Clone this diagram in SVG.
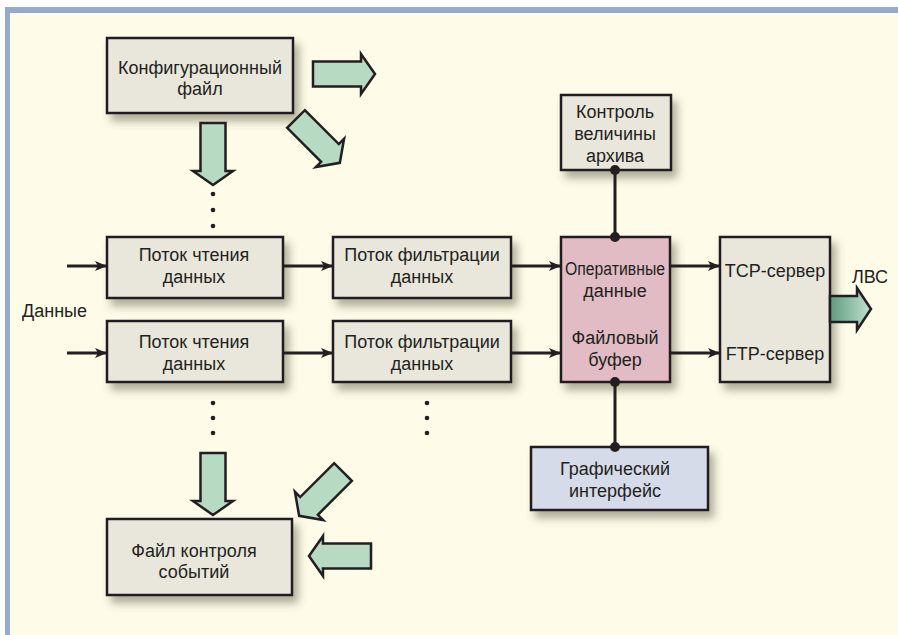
<svg xmlns="http://www.w3.org/2000/svg" width="898" height="635" viewBox="0 0 898 635">
<style>
  .box { stroke: #231f20; stroke-width: 2.5; filter: url(#sh); }
  .grey { fill: #e9e7dc; }
  .pink { fill: #e1bcc4; }
  .blue { fill: #d5dbe9; }
  text { font-family: "Liberation Sans Narrow", "Liberation Sans", Arial, sans-serif; font-size: 18px; fill: #231f20; text-anchor: middle; }
  .fat { fill: #b6dac2; stroke: #231f20; stroke-width: 2.5; stroke-linejoin: miter; }
  .ln { stroke: #231f20; stroke-width: 3; fill: none; }
  .dot { fill: #231f20; }
</style>
<defs>
  <filter id="sh" x="-20%" y="-20%" width="150%" height="160%">
    <feDropShadow dx="5" dy="7" stdDeviation="4" flood-color="#4d4d30" flood-opacity="0.45"/>
  </filter>
  <marker id="ah" viewBox="0 0 12 10" refX="11" refY="5" markerWidth="12" markerHeight="10" markerUnits="userSpaceOnUse" orient="auto">
    <path d="M0,0 L12,5 L0,10 L3,5 Z" fill="#231f20"/>
  </marker>
  <path id="fatArrow" d="M0,-12.5 H48 V-20 L62,0 L48,20 V12.5 H0 Z"/>
  <linearGradient id="lan" x1="0" y1="0" x2="1" y2="0">
    <stop offset="0" stop-color="#5f9a80"/>
    <stop offset="1" stop-color="#c2e2cd"/>
  </linearGradient>
</defs>

<rect x="0" y="0" width="898" height="635" fill="#ffffff"/>
<rect x="5" y="7" width="893" height="628" fill="#fefbe8"/>
<rect x="5" y="7" width="893" height="6" fill="#97aacb"/>
<rect x="5" y="7" width="5" height="628" fill="#97aacb"/>

<g id="config">
  <rect class="box grey" x="107" y="38" width="186" height="75"/>
  <text x="200" y="74">Конфигурационный</text>
  <text x="200" y="95">файл</text>
</g>
<g id="archive">
  <rect class="box grey" x="561" y="95" width="110" height="75"/>
  <text x="615" y="118">Контроль</text>
  <text x="615" y="140">величины</text>
  <text x="615" y="162">архива</text>
</g>
<g id="read1">
  <rect class="box grey" x="107" y="237" width="176" height="61"/>
  <text x="194" y="261">Поток чтения</text>
  <text x="194" y="283">данных</text>
</g>
<g id="read2">
  <rect class="box grey" x="107" y="321" width="176" height="61"/>
  <text x="194" y="348">Поток чтения</text>
  <text x="194" y="370">данных</text>
</g>
<g id="filter1">
  <rect class="box grey" x="333" y="237" width="178" height="61"/>
  <text x="422" y="261">Поток фильтрации</text>
  <text x="422" y="283">данных</text>
</g>
<g id="filter2">
  <rect class="box grey" x="333" y="321" width="178" height="61"/>
  <text x="422" y="348">Поток фильтрации</text>
  <text x="422" y="370">данных</text>
</g>
<g id="buffer">
  <rect class="box pink" x="561" y="237" width="109" height="145"/>
  <text x="615" y="275" textLength="100" lengthAdjust="spacingAndGlyphs">Оперативные</text>
  <text x="615" y="297">данные</text>
  <text x="615" y="344">Файловый</text>
  <text x="615" y="366">буфер</text>
</g>
<g id="servers">
  <rect class="box grey" x="720" y="237" width="110" height="145"/>
  <text x="775" y="277">TCP-сервер</text>
  <text x="775" y="360">FTP-сервер</text>
</g>
<g id="gui">
  <rect class="box blue" x="531" y="447" width="177" height="63"/>
  <text x="615" y="475">Графический</text>
  <text x="615" y="497">интерфейс</text>
</g>
<g id="events">
  <rect class="box grey" x="107" y="519" width="185" height="76"/>
  <text x="194" y="557">Файл контроля</text>
  <text x="194" y="578">событий</text>
</g>

<g id="labels">
  <text x="22" y="317" style="text-anchor:start">Данные</text>
  <text x="870" y="283">ЛВС</text>
</g>

<g id="connectors">
  <line class="ln" x1="67" y1="266" x2="106" y2="266" marker-end="url(#ah)"/>
  <line class="ln" x1="67" y1="353" x2="106" y2="353" marker-end="url(#ah)"/>
  <line class="ln" x1="283" y1="266" x2="332" y2="266" marker-end="url(#ah)"/>
  <line class="ln" x1="283" y1="353" x2="332" y2="353" marker-end="url(#ah)"/>
  <line class="ln" x1="511" y1="266" x2="560" y2="266" marker-end="url(#ah)"/>
  <line class="ln" x1="511" y1="353" x2="560" y2="353" marker-end="url(#ah)"/>
  <line class="ln" x1="670" y1="266" x2="719" y2="266" marker-end="url(#ah)"/>
  <line class="ln" x1="670" y1="353" x2="719" y2="353" marker-end="url(#ah)"/>
  <line class="ln" x1="615" y1="170" x2="615" y2="237"/>
  <line class="ln" x1="615" y1="382" x2="615" y2="447"/>
  <circle class="dot" cx="615" cy="170" r="5"/>
  <circle class="dot" cx="615" cy="237" r="5"/>
  <circle class="dot" cx="615" cy="382" r="5"/>
  <circle class="dot" cx="615" cy="447" r="5"/>
  <use href="#fatArrow" class="fat" transform="translate(313,74)"/>
  <use href="#fatArrow" class="fat" transform="translate(213,123) rotate(90)"/>
  <use href="#fatArrow" class="fat" transform="translate(296,119) rotate(45)"/>
  <use href="#fatArrow" class="fat" transform="translate(213,453) rotate(90)"/>
  <use href="#fatArrow" class="fat" transform="translate(343,472) rotate(135)"/>
  <use href="#fatArrow" class="fat" transform="translate(371,556) rotate(180)"/>
  <path d="M830,296 H857 V288 L871,309 L857,330 V322 H830 Z" fill="url(#lan)" stroke="#231f20" stroke-width="2.5"/>
  <circle class="dot" cx="213" cy="194" r="2.3"/>
  <circle class="dot" cx="213" cy="210" r="2.3"/>
  <circle class="dot" cx="213" cy="226" r="2.3"/>
  <circle class="dot" cx="213" cy="403" r="2.3"/>
  <circle class="dot" cx="213" cy="418" r="2.3"/>
  <circle class="dot" cx="213" cy="433" r="2.3"/>
  <circle class="dot" cx="427" cy="403" r="2.3"/>
  <circle class="dot" cx="427" cy="418" r="2.3"/>
  <circle class="dot" cx="427" cy="433" r="2.3"/>
</g>
</svg>
